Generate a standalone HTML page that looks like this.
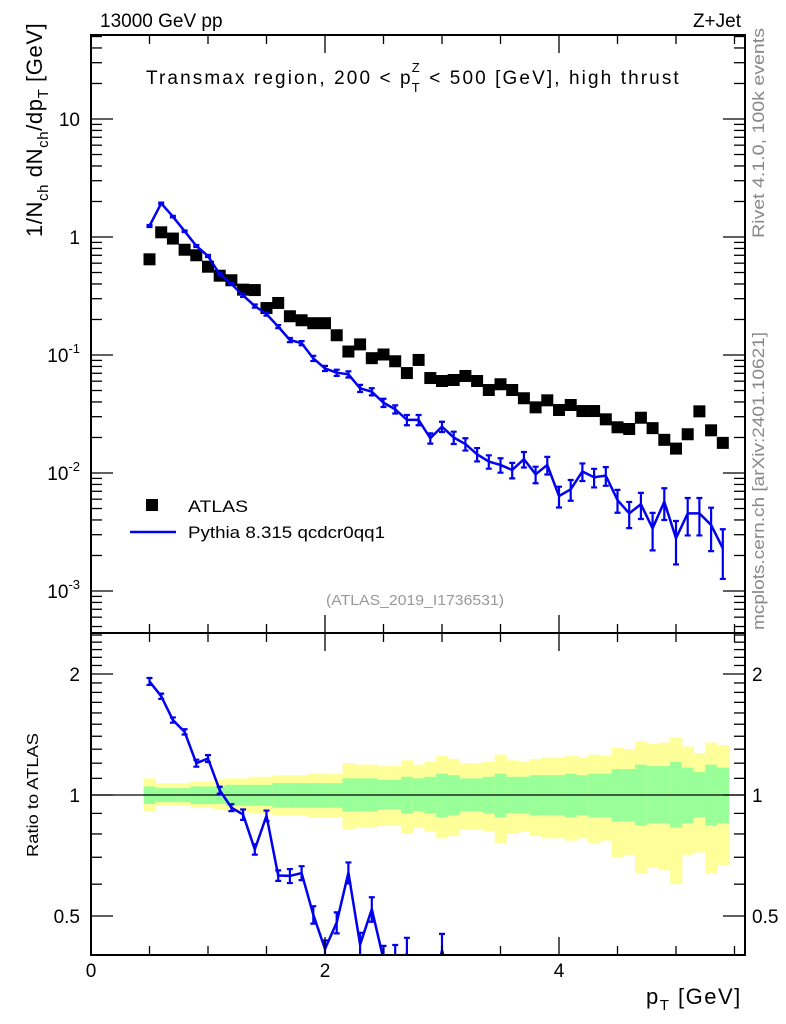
<!DOCTYPE html>
<html><head><meta charset="utf-8"><style>
html,body{margin:0;padding:0;background:#fff;width:786px;height:1024px;overflow:hidden;}
svg{display:block;font-family:"Liberation Sans",sans-serif;}
</style></head><body>
<svg id="chart" width="786" height="1024" viewBox="0 0 786 1024" xmlns="http://www.w3.org/2000/svg">
<defs>
<clipPath id="clipMain"><rect x="91" y="35" width="654" height="598"/></clipPath>
<clipPath id="clipRatio"><rect x="91" y="633" width="654" height="322"/></clipPath>
</defs>
<g id="bandLayer" clip-path="url(#clipRatio)"></g>
<line x1="91" x2="745" y1="795" y2="795" stroke="#000" stroke-width="1.3"/>
<g id="mainLayer" clip-path="url(#clipMain)"></g>
<g id="ratioLayer" clip-path="url(#clipRatio)"></g>
<g id="axisLayer"></g>
<rect x="91" y="35" width="654" height="598" fill="none" stroke="#000" stroke-width="2"/>
<rect x="91" y="633" width="654" height="322" fill="none" stroke="#000" stroke-width="2"/>
<text x="100" y="27" font-size="19">13000 GeV pp</text>
<text x="741" y="27" font-size="19" text-anchor="end">Z+Jet</text>
<text x="146" y="84" font-size="19" letter-spacing="2.1">Transmax region, 200 &lt; p<tspan font-size="13" dx="-1" dy="-12">Z</tspan><tspan font-size="13" dx="-10" dy="20">T</tspan><tspan dy="-8"> &lt; 500 [GeV], high thrust</tspan></text>
<text transform="translate(764,238) rotate(-90)" font-size="17" fill="#888" textLength="210" lengthAdjust="spacingAndGlyphs">Rivet 4.1.0,  100k events</text>
<text transform="translate(764,630) rotate(-90)" font-size="17" fill="#888" textLength="298" lengthAdjust="spacingAndGlyphs">mcplots.cern.ch [arXiv:2401.10621]</text>
<text x="415" y="605" font-size="15" fill="#999" text-anchor="middle" textLength="178" lengthAdjust="spacingAndGlyphs">(ATLAS_2019_I1736531)</text>
<text transform="translate(42,237) rotate(-90)" font-size="22" letter-spacing="0.6">1/N<tspan font-size="15" dy="6">ch</tspan><tspan dy="-6"> dN</tspan><tspan font-size="15" dy="6">ch</tspan><tspan dy="-6">/dp</tspan><tspan font-size="15" dy="6">T</tspan><tspan dy="-6"> [GeV]</tspan></text>
<text transform="translate(38,857) rotate(-90)" font-size="16" textLength="124" lengthAdjust="spacingAndGlyphs">Ratio to ATLAS</text>
<text x="646" y="1004" font-size="22" letter-spacing="1.5">p<tspan font-size="15" dy="6">T</tspan><tspan dy="-6"> [GeV]</tspan></text>
<g>
<rect x="146" y="499" width="12" height="12" fill="#000"/>
<text x="188" y="512" font-size="17" textLength="60" lengthAdjust="spacingAndGlyphs">ATLAS</text>
<line x1="130" y1="532" x2="176" y2="532" stroke="#0000ee" stroke-width="2.5"/>
<text x="188" y="538" font-size="17" textLength="197" lengthAdjust="spacingAndGlyphs">Pythia 8.315 qcdcr0qq1</text>
</g>
</svg>
<script>
var binCenters=[0.5,0.6,0.7,0.8,0.9,1.0,1.1,1.2,1.3,1.4,1.5,1.6,1.7,1.8,1.9,2.0,2.1,2.2,2.3,2.4,2.5,2.6,2.7,2.8,2.9,3.0,3.1,3.2,3.3,3.4,3.5,3.6,3.7,3.8,3.9,4.0,4.1,4.2,4.3,4.4,4.5,4.6,4.7,4.8,4.9,5.0,5.1,5.2,5.3,5.4];
var atlasValues=[0.647,1.096,0.97,0.78,0.70,0.56,0.47,0.43,0.358,0.355,0.25,0.276,0.213,0.197,0.186,0.186,0.147,0.107,0.123,0.094,0.101,0.0885,0.0703,0.0908,0.0638,0.0602,0.0614,0.0664,0.0602,0.0505,0.0565,0.0505,0.043,0.036,0.0413,0.0342,0.0377,0.0335,0.0335,0.0285,0.0244,0.0236,0.0294,0.024,0.0191,0.0161,0.0213,0.0333,0.023,0.018];
var pythiaValues=[1.24,1.93,1.49,1.12,0.84,0.69,0.483,0.40,0.32,0.26,0.222,0.174,0.134,0.126,0.0937,0.077,0.0708,0.0686,0.0522,0.0489,0.0394,0.0347,0.0282,0.0282,0.0197,0.0247,0.020,0.0176,0.0144,0.0125,0.0117,0.0106,0.0131,0.00975,0.0117,0.00638,0.00727,0.0103,0.0092,0.0095,0.0059,0.00455,0.00543,0.0034,0.00571,0.0028,0.00455,0.00455,0.00363,0.0023];
var pythiaRelErr=[0.02,0.015,0.015,0.015,0.02,0.02,0.02,0.02,0.03,0.03,0.03,0.03,0.04,0.04,0.05,0.05,0.06,0.06,0.07,0.07,0.08,0.08,0.1,0.1,0.1,0.1,0.12,0.12,0.13,0.13,0.14,0.15,0.15,0.16,0.17,0.2,0.2,0.17,0.18,0.18,0.22,0.25,0.25,0.35,0.3,0.4,0.35,0.35,0.4,0.45];
var yellowUp=[1.10,1.07,1.07,1.07,1.08,1.08,1.09,1.10,1.10,1.11,1.11,1.12,1.12,1.12,1.13,1.13,1.13,1.20,1.19,1.19,1.18,1.18,1.22,1.19,1.21,1.25,1.23,1.20,1.20,1.21,1.26,1.22,1.21,1.23,1.24,1.24,1.25,1.24,1.26,1.25,1.31,1.30,1.36,1.34,1.35,1.39,1.32,1.27,1.35,1.33];
var yellowDown=[0.91,0.94,0.94,0.94,0.93,0.93,0.92,0.91,0.91,0.90,0.90,0.89,0.89,0.89,0.88,0.88,0.88,0.82,0.83,0.83,0.84,0.84,0.80,0.83,0.81,0.78,0.79,0.82,0.82,0.81,0.76,0.80,0.81,0.79,0.78,0.78,0.77,0.78,0.76,0.77,0.70,0.71,0.64,0.66,0.65,0.60,0.71,0.72,0.64,0.67];
var greenUp=[1.05,1.04,1.04,1.04,1.05,1.05,1.05,1.06,1.06,1.06,1.06,1.07,1.07,1.07,1.07,1.07,1.07,1.10,1.10,1.10,1.09,1.09,1.11,1.10,1.11,1.13,1.12,1.10,1.10,1.11,1.13,1.11,1.11,1.12,1.12,1.12,1.13,1.12,1.13,1.13,1.16,1.16,1.19,1.18,1.18,1.21,1.17,1.14,1.19,1.17];
var greenDown=[0.95,0.96,0.96,0.96,0.95,0.95,0.95,0.94,0.94,0.94,0.94,0.93,0.93,0.93,0.93,0.93,0.93,0.91,0.91,0.91,0.92,0.92,0.90,0.91,0.90,0.88,0.89,0.91,0.91,0.90,0.88,0.90,0.90,0.89,0.89,0.89,0.88,0.89,0.88,0.88,0.86,0.86,0.84,0.85,0.85,0.83,0.85,0.88,0.84,0.85];
var mainYTicks=[10,1,0.1,0.01,0.001];
var mainYLabels=["10","1","10^-1","10^-2","10^-3"];
var ratioTicks=[2,1,0.5];
var ratioTickLabels=["2","1","0.5"];
var xTicks=[0,2,4];
var xTickLabels=["0","2","4"];

(function(){
var SVGNS="http://www.w3.org/2000/svg";
var PL=91,PR=745,PT=35,PM=633,PB=955,BINW=0.1;
function xS(v){return PL+v*117;}
function yM(v){return 237-Math.log10(v)*118;}
function yR(v){return 795-Math.log10(v)*402;}
function mk(tag,attrs,parent){var e=document.createElementNS(SVGNS,tag);for(var k in attrs){e.setAttribute(k,String(attrs[k]));}parent.appendChild(e);return e;}
var bandG=document.getElementById('bandLayer');
var mainG=document.getElementById('mainLayer');
var ratioG=document.getElementById('ratioLayer');
var axisG=document.getElementById('axisLayer');

for(var i=0;i<binCenters.length;i++){
  var c=binCenters[i],x0=xS(c-BINW/2),w=xS(c+BINW/2)-x0;
  var yb=mk('rect',{x:x0,y:yR(yellowUp[i]),width:w+0.5,height:yR(yellowDown[i])-yR(yellowUp[i]),fill:'#ffff99'},bandG);
  
  
  var gb=mk('rect',{x:x0,y:yR(greenUp[i]),width:w+0.5,height:yR(greenDown[i])-yR(greenUp[i]),fill:'#99ff99'},bandG);
  
  
}
for(var j=0;j<atlasValues.length;j++){
  var r=mk('rect',{x:xS(binCenters[j])-6,y:yM(atlasValues[j])-6,width:12,height:12,fill:'#000'},mainG);
  
  
}
function drawSeries(g,vals,ys,name){
  var d='';
  for(var i=0;i<vals.length;i++){d+=(i?'L':'M')+xS(binCenters[i])+','+ys(vals[i]);}
  var p=mk('path',{d:d,fill:'none',stroke:'#0000ee','stroke-width':2.5,'stroke-linejoin':'round'},g);
  
  
  for(var k=0;k<vals.length;k++){
    var x=xS(binCenters[k]),e=pythiaRelErr[k],v=vals[k];
    var y1=ys(v*(1+e)),y2=ys(Math.max(v*(1-e),1e-6));
    var eb=mk('path',{d:'M'+x+','+y1+'L'+x+','+y2+'M'+(x-3)+','+y1+'L'+(x+3)+','+y1+'M'+(x-3)+','+y2+'L'+(x+3)+','+y2,stroke:'#0000ee','stroke-width':2.2,fill:'none'},g);
    
    
  }
}
drawSeries(mainG,pythiaValues,yM,'pythia');
var ratioVals=[];
for(var q=0;q<pythiaValues.length;q++){ratioVals.push(pythiaValues[q]/atlasValues[q]);}
drawSeries(ratioG,ratioVals,yR,'pythia-ratio');

function tick(a,b,c2,d2){mk('line',{x1:a,y1:b,x2:c2,y2:d2,stroke:'#000','stroke-width':1.3},axisG);}
for(var ex=-4;ex<=1;ex++){for(var m=1;m<10;m++){var vv=m*Math.pow(10,ex),yy=yM(vv);if(yy<PT||yy>PM)continue;var len=m===1?22:11;tick(PL,yy,PL+len,yy);tick(PR,yy,PR-len,yy);}}
for(var a=0;a<mainYTicks.length;a++){
  var ty=yM(mainYTicks[a]),s=mainYLabels[a];
  var t=mk('text',{x:80,y:ty+7,'font-size':19,'text-anchor':'end'},axisG);
  
  
  if(s.indexOf('^')>0){var parts=s.split('^');t.appendChild(document.createTextNode(parts[0]));var sp=mk('tspan',{'font-size':13,dy:-9},t);sp.textContent=parts[1];}
  else t.textContent=s;
}
var rmin=[0.4,0.5,0.6,0.7,0.8,0.9,1,1.1,1.2,1.3,1.4,1.5,1.6,1.7,1.8,1.9,2,2.1,2.2,2.3,2.4,2.5];
for(var b=0;b<rmin.length;b++){var ry=yR(rmin[b]);if(ry<PM||ry>PB)continue;var big=ratioTicks.indexOf(rmin[b])>=0;var ln=big?22:11;tick(PL,ry,PL+ln,ry);tick(PR,ry,PR-ln,ry);}
for(var f=0;f<ratioTicks.length;f++){
  var y3=yR(ratioTicks[f]);
  var t1=mk('text',{x:80,y:y3+7,'font-size':19,'text-anchor':'end'},axisG);
  
  
  t1.textContent=ratioTickLabels[f];
  var t2=mk('text',{x:752,y:y3+7,'font-size':19},axisG);
  
  
  t2.textContent=ratioTickLabels[f];
}
for(var n=0;n<=11;n++){var xv=xS(n*0.5);if(xv>PR)continue;var bg=n%4===0;var l2=bg?18:9;
  tick(xv,PM,xv,PM-l2);tick(xv,PT,xv,PT+l2);tick(xv,PB,xv,PB-l2);tick(xv,PM,xv,PM+l2);}
for(var h=0;h<xTicks.length;h++){
  var t3=mk('text',{x:xS(xTicks[h]),y:977,'font-size':19,'text-anchor':'middle'},axisG);
  
  
  t3.textContent=xTickLabels[h];
}
})();
</script>
</body></html>
